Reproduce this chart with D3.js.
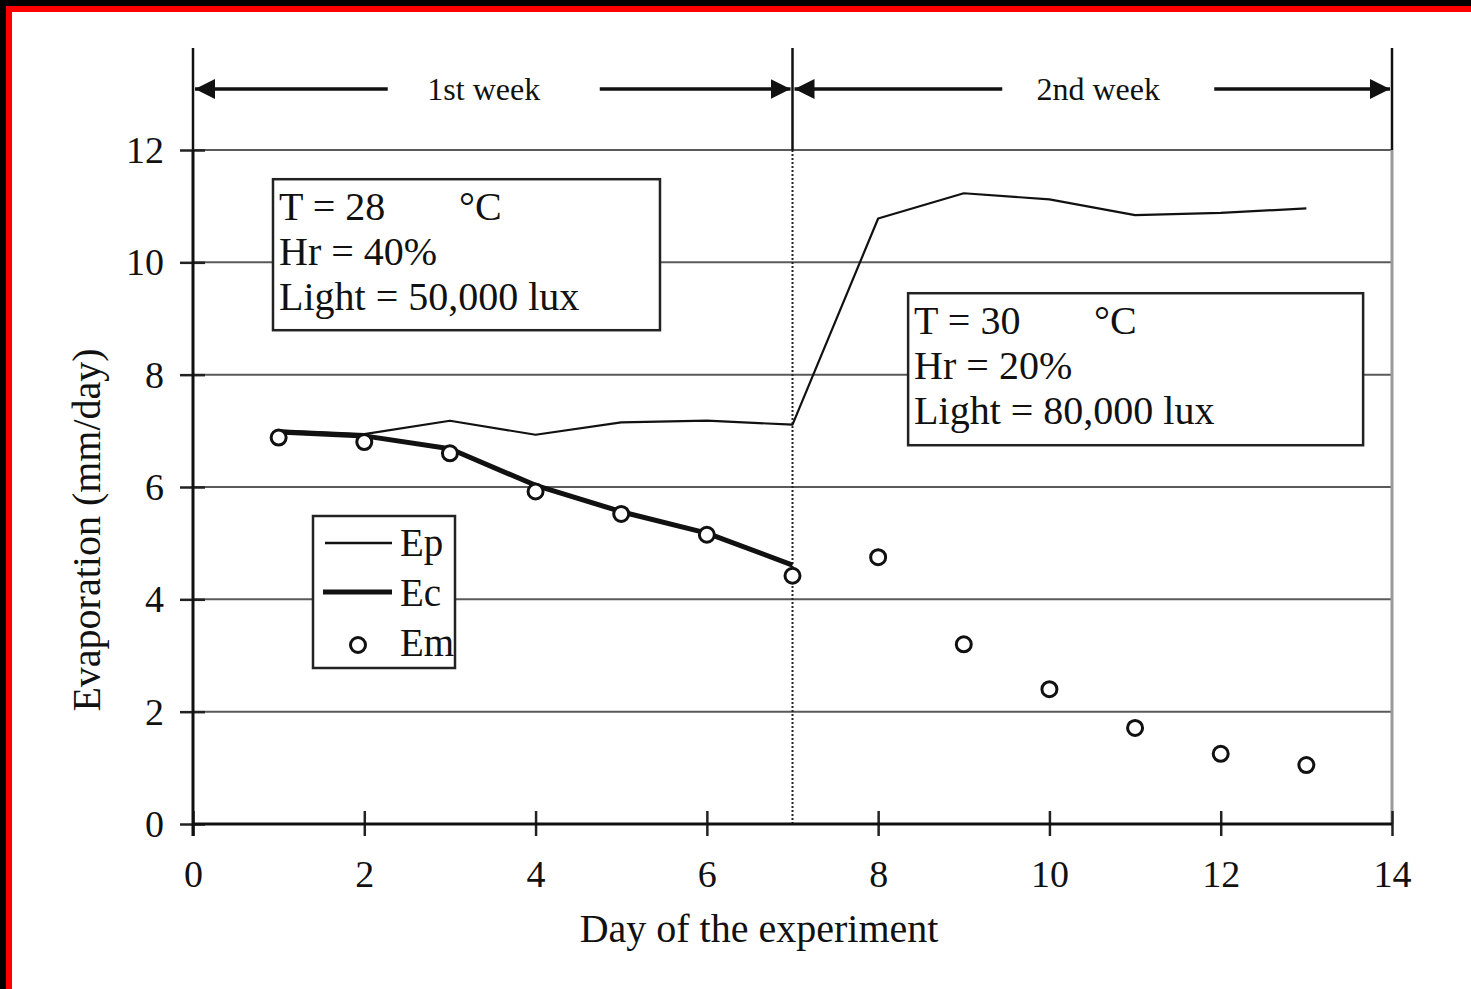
<!DOCTYPE html>
<html>
<head>
<meta charset="utf-8">
<script src="https://cdn.jsdelivr.net/npm/d3@7"></script>
<style>
  html, body { margin: 0; padding: 0; background: #fff; }
  svg { display: block; }
  text { font-family: "Liberation Serif", "DejaVu Serif", serif; fill: #111; }
</style>
</head>
<body>
<svg id="chart" width="1471" height="989"></svg>
<script>
// Daily evaporation over a two-week experiment
const days = [1, 2, 3, 4, 5, 6, 7, 8, 9, 10, 11, 12, 13];
const epValues = [7.01, 6.94, 7.18, 6.93, 7.15, 7.18, 7.11, 10.78, 11.23, 11.12, 10.84, 10.88, 10.96];
const ecDays = [1, 2, 3, 4, 5, 6, 7];
const ecValues = [6.98, 6.91, 6.68, 6.03, 5.56, 5.18, 4.61];
const emValues = [6.88, 6.80, 6.60, 5.92, 5.52, 5.15, 4.42, 4.75, 3.20, 2.40, 1.71, 1.25, 1.05];
const xTicks = [0, 2, 4, 6, 8, 10, 12, 14];
const yTicks = [0, 2, 4, 6, 8, 10, 12];
const weekLabels = ["1st week", "2nd week"];
const weekBounds = [[0, 7], [7, 14]];
const conditions = [
  { T: "T = 28", unit: "°C", hr: "Hr = 40%", light: "Light = 50,000 lux", x: 0.934, y: 11.48 },
  { T: "T = 30", unit: "°C", hr: "Hr = 20%", light: "Light = 80,000 lux", x: 8.35, y: 9.45 }
];
const legendNames = ["Ep", "Ec", "Em"];

const svg = d3.select("#chart");
const W = 1471, H = 989;

// frame on left and top edges
svg.append("rect").attr("x", 0).attr("y", 0).attr("width", W).attr("height", H).attr("fill", "#fff");
svg.append("rect").attr("x", 0).attr("y", 0).attr("width", W).attr("height", 12).attr("fill", "#000");
svg.append("rect").attr("x", 0).attr("y", 0).attr("width", 12).attr("height", H).attr("fill", "#000");
svg.append("rect").attr("x", 6).attr("y", 6).attr("width", W - 6).attr("height", 6).attr("fill", "#f00");
svg.append("rect").attr("x", 6).attr("y", 6).attr("width", 6).attr("height", H - 6).attr("fill", "#f00");

const x = d3.scaleLinear().domain([0, 14]).range([193, 1392]);
const y = d3.scaleLinear().domain([0, 12]).range([824, 150]);
const g = svg.append("g");

// horizontal grid
g.append("g").selectAll("line").data(yTicks.filter(d => d > 0)).join("line")
  .attr("x1", x(0)).attr("x2", x(14))
  .attr("y1", d => y(d)).attr("y2", d => y(d))
  .attr("stroke", "#5a5a5a").attr("stroke-width", 2);

// right frame line
g.append("line").attr("x1", x(14)).attr("x2", x(14)).attr("y1", y(12)).attr("y2", y(0))
  .attr("stroke", "#9a9a9a").attr("stroke-width", 3);

// week boundaries above plot
g.append("g").selectAll("line").data([0, 7, 14]).join("line")
  .attr("x1", d => x(d)).attr("x2", d => x(d))
  .attr("y1", 48).attr("y2", y(12))
  .attr("stroke", "#111").attr("stroke-width", 2.5);

// dotted divider between the two weeks
g.append("line").attr("x1", x(7)).attr("x2", x(7)).attr("y1", y(12)).attr("y2", y(0))
  .attr("stroke", "#222").attr("stroke-width", 2).attr("stroke-dasharray", "2,2");

// arrows
const defs = svg.append("defs");
defs.append("marker").attr("id", "ah").attr("viewBox", "0 0 10 10")
  .attr("refX", 10).attr("refY", 5).attr("markerWidth", 20).attr("markerHeight", 20)
  .attr("markerUnits", "userSpaceOnUse").attr("orient", "auto")
  .append("path").attr("d", "M0,0 L10,5 L0,10 Z").attr("fill", "#111");

const arrowY = 89;
weekBounds.forEach((b, i) => {
  const x0 = x(b[0]) + 2, x1 = x(b[1]) - 2;
  const cx = (x(b[0]) + x(b[1])) / 2 - (i === 0 ? 9 : -6);
  g.append("line").attr("x1", cx - 96).attr("x2", x0).attr("y1", arrowY).attr("y2", arrowY)
    .attr("stroke", "#111").attr("stroke-width", 3.5).attr("marker-end", "url(#ah)");
  g.append("line").attr("x1", cx + 116).attr("x2", x1).attr("y1", arrowY).attr("y2", arrowY)
    .attr("stroke", "#111").attr("stroke-width", 3.5).attr("marker-end", "url(#ah)");
  g.append("text").attr("x", cx).attr("y", arrowY + 11).attr("text-anchor", "middle")
    .attr("font-size", 32).text(weekLabels[i]);
});

// axes
const xAxis = d3.axisBottom(x).tickValues(xTicks).tickSize(0).tickPadding(0);
const yAxis = d3.axisLeft(y).tickValues(yTicks).tickSize(0).tickPadding(0);
const gx = g.append("g").attr("transform", `translate(0,${y(0)})`).call(xAxis);
const gy = g.append("g").attr("transform", `translate(${x(0)},0)`).call(yAxis);
gx.select(".domain").remove();
gy.select(".domain").remove();
gx.selectAll(".tick text").attr("font-size", 38).attr("dy", 0).attr("y", 63)
  .attr("font-family", "Liberation Serif").attr("fill", "#111");
gy.selectAll(".tick text").attr("font-size", 38).attr("dy", "0.33em").attr("x", -29)
  .attr("font-family", "Liberation Serif").attr("fill", "#111");
// crossing tick marks
gx.selectAll(".tick").append("line").attr("y1", -13).attr("y2", 12).attr("stroke", "#222").attr("stroke-width", 2.5);
gy.selectAll(".tick").append("line").attr("x1", -13).attr("x2", 12).attr("stroke", "#222").attr("stroke-width", 2.5);

g.append("line").attr("x1", x(0)).attr("x2", x(14)).attr("y1", y(0)).attr("y2", y(0))
  .attr("stroke", "#111").attr("stroke-width", 3);
g.append("line").attr("x1", x(0)).attr("x2", x(0)).attr("y1", y(12)).attr("y2", y(0) + 12)
  .attr("stroke", "#111").attr("stroke-width", 3);

// axis titles
g.append("text").attr("x", 759).attr("y", 942).attr("text-anchor", "middle")
  .attr("font-size", 40).text("Day of the experiment");
g.append("text").attr("transform", `translate(100,${530}) rotate(-90)`).attr("text-anchor", "middle")
  .attr("font-size", 40).text("Evaporation (mm/day)");

// condition boxes
const boxSizes = [[387, 151], [455, 152]];
conditions.forEach((c, i) => {
  const bx = x(c.x), by = y(c.y);
  const bg = g.append("g").attr("transform", `translate(${bx},${by})`);
  bg.append("rect").attr("width", boxSizes[i][0]).attr("height", boxSizes[i][1])
    .attr("fill", "#fff").attr("stroke", "#222").attr("stroke-width", 2.5);
  bg.append("text").attr("x", 6).attr("y", 41).attr("font-size", 40).text(c.T);
  bg.append("text").attr("x", 186).attr("y", 41).attr("font-size", 40).text(c.unit);
  bg.append("text").attr("x", 6).attr("y", 86).attr("font-size", 40).text(c.hr);
  bg.append("text").attr("x", 6).attr("y", 131).attr("font-size", 40).text(c.light);
});

// series
const line = d3.line().x(d => x(d[0])).y(d => y(d[1]));
g.append("path").datum(days.map((d, i) => [d, epValues[i]]))
  .attr("d", line).attr("fill", "none").attr("stroke", "#111").attr("stroke-width", 2.2)
  .attr("stroke-linejoin", "round");
g.append("path").datum(ecDays.map((d, i) => [d, ecValues[i]]))
  .attr("d", line).attr("fill", "none").attr("stroke", "#111").attr("stroke-width", 5)
  .attr("stroke-linejoin", "round");
g.append("g").selectAll("circle").data(days.map((d, i) => [d, emValues[i]])).join("circle")
  .attr("cx", d => x(d[0])).attr("cy", d => y(d[1])).attr("r", 7.5)
  .attr("fill", "#fff").attr("stroke", "#111").attr("stroke-width", 3);

// legend
const lg = g.append("g").attr("transform", "translate(313,516)");
lg.append("rect").attr("width", 142).attr("height", 152)
  .attr("fill", "#fff").attr("stroke", "#222").attr("stroke-width", 2.5);
lg.append("line").attr("x1", 12).attr("x2", 79).attr("y1", 27).attr("y2", 27)
  .attr("stroke", "#111").attr("stroke-width", 2.5);
lg.append("line").attr("x1", 10).attr("x2", 79).attr("y1", 76).attr("y2", 76)
  .attr("stroke", "#111").attr("stroke-width", 5);
lg.append("circle").attr("cx", 45).attr("cy", 129).attr("r", 7.5)
  .attr("fill", "#fff").attr("stroke", "#111").attr("stroke-width", 3);
legendNames.forEach((n, i) => {
  lg.append("text").attr("x", 87).attr("y", 40 + i * 50).attr("font-size", 39).text(n);
});
</script>
</body>
</html>
